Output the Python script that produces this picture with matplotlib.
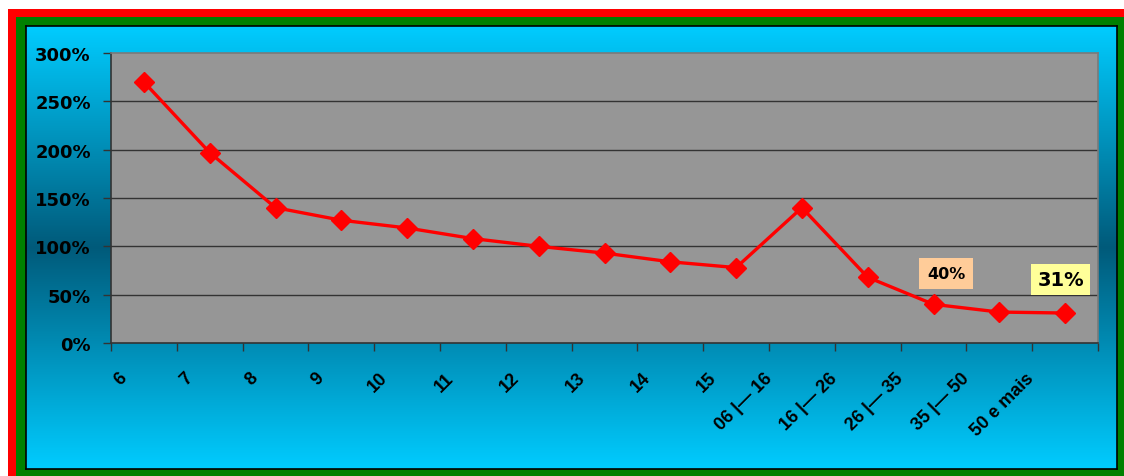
import numpy as np
import matplotlib
matplotlib.use("Agg")
import matplotlib.pyplot as plt
from matplotlib.patches import Rectangle
from matplotlib.colors import LinearSegmentedColormap
from matplotlib.transforms import ScaledTranslation
from matplotlib.font_manager import FontProperties

plt.rcParams['font.family'] = ['Liberation Sans', 'DejaVu Sans']
plt.rcParams['font.weight'] = 'bold'

# Data
categories = ["6", "7", "8", "9", "10", "11", "12", "13", "14", "15",
              "06 |— 16", "16 |— 26", "26 |— 35", "35 |— 50", "50 e mais"]
values = [270, 197, 140, 127, 119, 108, 100, 93, 84, 78, 140, 68, 40, 32, 31]
yticks = [0, 50, 100, 150, 200, 250, 300]
ytick_labels = ["0%", "50%", "100%", "150%", "200%", "250%", "300%"]
# index -> (text, box colour, offset in points, font size, box pad)
callouts = {12: ("40%", "#FFCC99", (9, 22), 11.5, 0.5),
            14: ("31%", "#FFFF99", (-3, 24), 14, 0.32)}

W, H, DPI = 1124, 477, 100
fig = plt.figure(figsize=(W / DPI, H / DPI), dpi=DPI, facecolor="white")

def fx(px):
    return px / W

def fy(py):
    return 1 - py / H

# Outer frames: red, then green
fig.patches.append(Rectangle((fx(8), 0), 1, fy(10), transform=fig.transFigure,
                             facecolor="#FF0000", edgecolor="none", zorder=0))
fig.patches.append(Rectangle((fx(16), 0), 1, fy(18), transform=fig.transFigure,
                             facecolor="#008000", edgecolor="none", zorder=0))

# Inner panel with vertical gradient
px0, px1, py0, py1 = 26, 1117, 27, 470
bg = fig.add_axes([fx(px0), fy(py1), fx(px1 - px0), (py1 - py0) / H], zorder=1)
cmap = LinearSegmentedColormap.from_list(
    "panel", [(0.0, "#00CCFF"), (0.5, "#005A7A"), (1.0, "#00CCFF")])
grad = np.linspace(0, 1, 512).reshape(-1, 1)
bg.imshow(grad, cmap=cmap, aspect="auto", extent=[0, 1, 0, 1], origin="upper")
bg.set_xlim(0, 1)
bg.set_ylim(0, 1)
bg.set_xticks([])
bg.set_yticks([])
for s in bg.spines.values():
    s.set_color("black")
    s.set_linewidth(1.2)

# Plot area
L, R, T, B = 111, 1098, 54, 344
ax = fig.add_axes([fx(L), fy(B), fx(R - L), (B - T) / H], zorder=2)
ax.set_facecolor("#969696")

n = len(categories)
x = np.arange(n) + 0.5
ax.set_xlim(0, n)
ax.set_ylim(0, 300)

for yv in yticks[1:-1]:
    ax.axhline(yv, color="#333333", lw=1.0, zorder=1)

ax.plot(x, values, color="#FF0000", lw=2.4, marker="D", ms=10,
        mfc="#FF0000", mec="#FF0000", mew=1, zorder=3, clip_on=False)

for idx, (txt, col, off, fs, pad) in callouts.items():
    ax.annotate(txt, (x[idx], values[idx]), xytext=off, textcoords="offset points",
                ha="center", va="center", fontsize=fs, fontweight="bold",
                family="DejaVu Sans", color="black", zorder=4,
                bbox=dict(boxstyle=f"square,pad={pad}", facecolor=col, edgecolor="none"))

# Spines
ax.spines["left"].set_color("#333333")
ax.spines["bottom"].set_color("#333333")
ax.spines["top"].set_color("#7A7A7A")
ax.spines["right"].set_color("#7A7A7A")
for s in ax.spines.values():
    s.set_linewidth(1.2)

# Y axis
ax.set_yticks(yticks)
ax.set_yticklabels(ytick_labels, fontsize=13, fontweight="bold", family="DejaVu Sans")
ax.tick_params(axis="y", direction="out", length=5.5, width=1, color="#333333", pad=9)

# X axis: tick marks between categories, labels at centres
ax.set_xticks(np.arange(n + 1), minor=True)
ax.tick_params(axis="x", which="minor", direction="out", length=5.5, width=1,
               color="#333333")
ax.set_xticks(x)
ax.set_xticklabels(categories, fontsize=13, fontweight="bold",
                   rotation=45, rotation_mode="anchor", ha="right", va="center")
ax.tick_params(axis="x", which="major", length=0, pad=23)

renderer = fig.canvas.get_renderer()
fp = FontProperties(family=['Liberation Sans', 'DejaVu Sans'], weight="bold", size=13)
for lbl, txt in zip(ax.get_xticklabels(), categories):
    w, h, d = renderer.get_text_width_height_descent(txt, fp, ismath=False)
    dx = -(20 + 0.2 * (w - 10)) / DPI
    lbl.set_transform(lbl.get_transform() + ScaledTranslation(dx, 0, fig.dpi_scale_trans))

fig.savefig("out.png", dpi=DPI, facecolor="white")
